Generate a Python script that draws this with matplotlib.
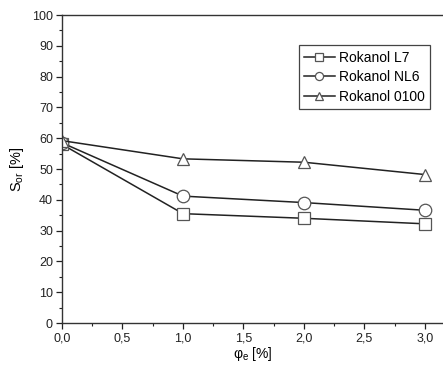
import numpy as np
import matplotlib.pyplot as plt
from matplotlib.ticker import MultipleLocator, FuncFormatter

plt.rcParams['font.family'] = ['Liberation Sans', 'DejaVu Sans']

# data
phi = [0.0, 1.0, 2.0, 3.0]
rokanol_l7 = [58.0, 35.5, 34.0, 32.2]
rokanol_nl6 = [58.5, 41.2, 39.1, 36.6]
rokanol_0100 = [59.2, 53.3, 52.2, 48.2]

series = [
    ('Rokanol L7', rokanol_l7, 's'),
    ('Rokanol NL6', rokanol_nl6, 'o'),
    ('Rokanol 0100', rokanol_0100, '^'),
]

fig = plt.figure(figsize=(4.43, 3.67), dpi=100)
ax = fig.add_axes([62 / 443, 1 - 323 / 367, 1 - 62 / 443, (323 - 15) / 367])

for name, vals, mk in series:
    ax.plot(phi, vals, color='#222222', lw=1.1, marker=mk, markersize=9,
            markerfacecolor='white', markeredgecolor='#555555', markeredgewidth=0.9,
            label=name)

ax.set_xlim(0, 3.15)
ax.set_ylim(0, 100)
ax.xaxis.set_major_locator(MultipleLocator(0.5))
ax.xaxis.set_minor_locator(MultipleLocator(0.25))
ax.yaxis.set_major_locator(MultipleLocator(10))
ax.yaxis.set_minor_locator(MultipleLocator(5))
ax.xaxis.set_major_formatter(FuncFormatter(lambda v, p: f'{v:.1f}'.replace('.', ',')))
ax.tick_params(which='major', direction='out', length=4, width=0.9, labelsize=9,
               colors='#222222', pad=2.5)
ax.tick_params(which='minor', direction='out', length=2.5, width=0.8, colors='#222222')
ax.spines['right'].set_visible(False)
for s in ['left', 'bottom', 'top']:
    ax.spines[s].set_color('#333333')
    ax.spines[s].set_linewidth(1.0)

ax.set_xlabel('φ$_{\\mathregular{e}}$ [%]', fontsize=10, labelpad=1)
ax.set_ylabel('S$_{\\mathregular{or}}$ [%]', fontsize=10.5, labelpad=4)

leg = ax.legend(loc='upper right', bbox_to_anchor=(0.985, 0.925), fontsize=10,
                frameon=True, fancybox=False, edgecolor='#444444', framealpha=1,
                handlelength=2.2, handletextpad=0.3, borderpad=0.4, labelspacing=0.4,
                markerscale=0.65)
leg.get_frame().set_linewidth(0.9)

plt.savefig('out.png', dpi=100)
